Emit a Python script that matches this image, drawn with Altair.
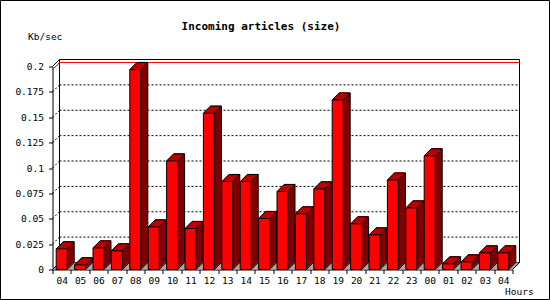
import altair as alt
import pandas as pd

# ---- data ----
hours = ["04", "05", "06", "07", "08", "09", "10", "11", "12", "13", "14", "15", "16",
         "17", "18", "19", "20", "21", "22", "23", "00", "01", "02", "03", "04"]
values = [0.0204, 0.0046, 0.0213, 0.0184, 0.197, 0.042, 0.107, 0.0404, 0.154, 0.0866,
          0.0866, 0.0502, 0.0768, 0.0548, 0.0794, 0.167, 0.045, 0.0341, 0.0882, 0.0607,
          0.112, 0.0056, 0.0075, 0.0164, 0.0164]
y_ticks = [0, 0.025, 0.05, 0.075, 0.1, 0.125, 0.15, 0.175, 0.2]

title_text = "Incoming articles (size)"
y_title = "Kb/sec"
x_title = "Hours"

df = pd.DataFrame({"slot": list(range(len(hours))), "hour": hours, "value": values})
grid_df = pd.DataFrame({"tick": y_ticks[1:-1]})

# ---- style / geometry ----
W, H = 460, 203
D = 7          # 3D depth in px
BW = 11        # bar front width
FONT = "DejaVu Sans Mono"
FS = 9.5
FRONT = "#ff0000"
TOP = "#c00000"
SIDE = "#800000"
FLOOR = "#8c8c8c"

label_expr = "[" + ",".join("'%s'" % h for h in hours) + "][datum.value]"

x_axis = alt.Axis(labelExpr=label_expr, tickBand="extent", labelAngle=0, tickSize=4,
                  tickColor="black", domainColor="black", labelColor="black",
                  labelFont=FONT, labelFontSize=FS, labelPadding=2, labelOverlap=False,
                  titleX=452, titleY=22, titleAlign="left", titleBaseline="middle",
                  titleFont=FONT, titleFontSize=FS, titleFontWeight="normal",
                  titleColor="black", grid=False)
y_axis = alt.Axis(values=y_ticks, format=".4~g", tickSize=4, tickColor="black",
                  domainColor="black", labelColor="black", labelFont=FONT,
                  labelFontSize=FS, labelPadding=5, labelOverlap=False, titleAngle=0,
                  titleX=-25, titleY=-30, titleAlign="left", titleBaseline="middle",
                  titleFont=FONT, titleFontSize=FS, titleFontWeight="normal",
                  titleColor="black", grid=False)
x_scale = alt.Scale(paddingInner=0, paddingOuter=0)
y_scale = alt.Scale(domain=[0, 0.2], nice=False, zero=True)


def X():
    return alt.X("slot:O", scale=x_scale, axis=x_axis, title=x_title)


def Y(field="value"):
    return alt.Y(field + ":Q", scale=y_scale, axis=y_axis, title=y_title)


def YD(v):
    return alt.YDatum(v, type="quantitative", scale=y_scale, axis=y_axis, title=y_title)


def one():
    return alt.Chart(alt.Data(values=[{"k": 0}]))


layers = []

# outer image border
layers.append(one().mark_rect(fillOpacity=0, stroke="black", strokeWidth=1).encode(
    x=alt.value(-52), x2=alt.value(497), y=alt.value(-66), y2=alt.value(233)))

# back wall
layers.append(one().mark_rect(fill="white", stroke="black", strokeWidth=1,
                              xOffset=D, x2Offset=D, yOffset=-D, y2Offset=-D).encode(
    x=alt.value(0), x2=alt.value(W), y=YD(0.2), y2=alt.datum(0)))

# floor (grey parallelogram)
for k in [0.5, 1.5, 2.5, 3.5, 4.5, 5.5, 6.5]:
    layers.append(one().mark_rule(color=FLOOR, strokeWidth=1.2, xOffset=k, x2Offset=k,
                                  yOffset=-k).encode(
        x=alt.value(0), x2=alt.value(W), y=YD(0)))

# dotted grid on back wall + left wall
layers.append(alt.Chart(grid_df).mark_rule(color="black", strokeDash=[2, 2], yOffset=-D).encode(
    x=alt.value(D), x2=alt.value(W + D), y=Y("tick")))
layers.append(alt.Chart(grid_df).mark_rule(color="black", strokeDash=[2, 2],
                                           x2Offset=D, y2Offset=-D).encode(
    x=alt.value(0), x2=alt.value(0), y=Y("tick"), y2=alt.Y2("tick")))

# frame diagonals
for xv, yd in [(0, 0.2), (0, 0), (W, 0)]:
    layers.append(one().mark_rule(color="black", x2Offset=D, y2Offset=-D).encode(
        x=alt.value(xv), x2=alt.value(xv), y=YD(yd), y2=alt.datum(yd)))

# red max line
mx = alt.Chart(df).transform_aggregate(vmax="max(value)")
layers.append(mx.mark_rule(color="red", yOffset=-D).encode(
    x=alt.value(D), x2=alt.value(W + D), y=Y("vmax")))
layers.append(mx.mark_rule(color="red", x2Offset=D, y2Offset=-D).encode(
    x=alt.value(0), x2=alt.value(0), y=Y("vmax"), y2=alt.Y2("vmax")))

base = alt.Chart(df)

# side (extrusion)
for k in range(1, D + 1):
    layers.append(base.mark_bar(width=BW, fill=SIDE, xOffset=k, yOffset=-k, y2Offset=-k).encode(
        x=X(), y=Y()))
# top face
for k in range(1, D + 1):
    layers.append(base.mark_tick(color=TOP, size=BW, thickness=1.4, xOffset=k, yOffset=-k,
                                 opacity=1).encode(x=X(), y=Y()))
# front face
layers.append(base.mark_bar(width=BW, fill=FRONT, stroke="black", strokeWidth=1).encode(
    x=X(), y=Y()))

# outlines of the 3D shape
layers.append(base.mark_rule(color="black", xOffset=BW / 2 + D, yOffset=-D, y2Offset=-D).encode(
    x=X(), y=Y(), y2=alt.datum(0)))
layers.append(base.mark_tick(color="black", size=BW, thickness=1, xOffset=D, yOffset=-D,
                             opacity=1).encode(x=X(), y=Y()))
for xo in [-BW / 2, BW / 2]:
    layers.append(base.mark_rule(color="black", xOffset=xo, x2Offset=xo + D, y2Offset=-D).encode(
        x=X(), x2=alt.X2("slot"), y=Y(), y2=alt.Y2("value")))
layers.append(base.mark_rule(color="black", xOffset=BW / 2, x2Offset=BW / 2 + D,
                             y2Offset=-D).encode(
    x=X(), x2=alt.X2("slot"), y=YD(0), y2=alt.datum(0)))

# chart title
layers.append(one().mark_text(text=title_text, font=FONT, fontWeight="bold", fontSize=11,
                              align="center", baseline="middle", color="black").encode(
    x=alt.value(261 - 52.5), y=alt.value(27 - 66.5)))

chart = alt.layer(*layers).properties(
    width=W, height=H,
    autosize=alt.AutoSizeParams(type="none"),
    padding={"left": 52.5, "top": 66.5, "right": 37.5, "bottom": 30.5},
    background="white",
).configure_view(strokeWidth=0)

chart.save("out.html", embed_options={"renderer": "svg", "actions": False})
